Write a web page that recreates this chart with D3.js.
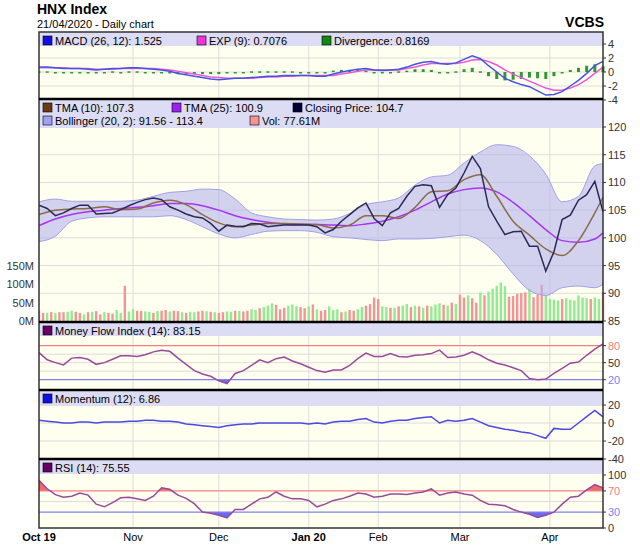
<!DOCTYPE html>
<html>
<head>
<meta charset="utf-8">
<script src="https://cdn.jsdelivr.net/npm/d3@7"></script>
<style>
  body { margin: 0; background: #fff; }
  text { font-family: "Liberation Sans", Arial, sans-serif; }
</style>
</head>
<body>
<div id="chart"></div>
<script>
// trading-day positions of month labels (Oct 1 2019 .. Apr 21 2020, 139 sessions)
const tickDays = [0, 23, 44, 66, 83, 103, 125];
const tickLabels = ['Oct 19', 'Nov', 'Dec', 'Jan 20', 'Feb', 'Mar', 'Apr'];
const boldTicks = ['Oct 19', 'Jan 20'];
const lastDay = 138;

// series read every 2 sessions
const sampleDays = d3.range(0, 139, 2);
const closePrice = [105.9,105.3,104.0,104.5,105.3,105.9,105.9,104.3,104.4,104.5,
  105.1,105.8,106.4,106.9,107.2,106.9,105.6,105.0,104.3,103.8,
  103.6,102.6,101.2,102.3,102.1,102.0,102.6,102.5,102.0,102.2,
  102.3,102.3,102.3,102.3,102.0,100.9,101.5,103.0,104.2,105.4,
  106.3,103.5,102.2,104.5,105.3,107.5,109.3,109.6,109.4,105.5,
  107.8,109.0,111.7,114.7,112.5,105.6,103.0,100.6,101.1,101.2,
  98.5,98.5,94.0,97.5,103.3,104.1,106.8,107.8,110.2,104.7];
const macd = [0.7,0.7,0.6,0.5,0.5,0.5,0.4,0.3,0.4,0.5,0.5,0.6,0.6,0.5,0.4,0.3,0.1,-0.2,-0.4,-0.6,
  -0.8,-1.0,-1.1,-1.0,-0.9,-0.9,-0.8,-0.7,-0.6,-0.6,-0.5,-0.5,-0.5,-0.5,-0.6,-0.6,-0.3,0.0,0.2,0.4,
  0.5,0.3,0.2,0.3,0.4,0.7,1.1,1.4,1.5,1.2,1.1,1.3,1.8,2.3,1.9,0.9,0.0,-0.9,-1.4,-1.8,
  -2.1,-2.7,-3.3,-3.2,-2.8,-2.0,-1.2,-0.2,0.9,1.525];
const macdExp = [0.6,0.6,0.6,0.6,0.5,0.5,0.5,0.4,0.4,0.4,0.5,0.5,0.5,0.5,0.5,0.4,0.3,0.1,-0.1,-0.3,
  -0.5,-0.7,-0.8,-0.9,-0.9,-0.9,-0.9,-0.8,-0.7,-0.7,-0.6,-0.6,-0.5,-0.5,-0.5,-0.5,-0.5,-0.3,-0.1,0.1,
  0.3,0.3,0.3,0.3,0.3,0.5,0.7,1.0,1.2,1.2,1.2,1.2,1.4,1.7,1.8,1.5,1.0,0.3,-0.3,-0.8,
  -1.3,-1.8,-2.3,-2.6,-2.6,-2.3,-1.8,-1.1,-0.2,0.7076];
const divergence = [0.1,0.1,0,-0.1,0,0,-0.1,-0.1,0,0.1,0,0.1,0.1,0,-0.1,-0.1,-0.2,-0.3,-0.3,-0.3,
  -0.3,-0.3,-0.3,-0.1,0,0,0.1,0.1,0.1,0.1,0.1,0.1,0,0,-0.1,-0.1,0.2,0.3,0.3,0.3,
  0.2,0,-0.1,0,0.1,0.2,0.4,0.4,0.3,0,-0.1,0.1,0.4,0.6,0.1,-0.6,-1.0,-1.2,-1.1,-1.0,
  -0.8,-0.9,-1.0,-0.6,-0.2,0.3,0.6,0.9,1.1,0.8];
const mfi = [67.6,55,50,46,58,59,56,47,50,56,62,62,61,64,69,72,70,58,47,36,
  30,26,18,13,31,36,45,55,50,57,60,53,48,42,36,33,37,37,45,57,
  67,61,61,66,61,60,63,64,66,72,59,60,63,69,63,55,49,46,41,36,
  22,20,21,31,40,49,51,63,74,83.15];
const momentum = [3,2,1,0,0,1,1,0,1,1,1,2,2,3,3,2,2,1,-1,-2,
  -3,-4,-5,-3,-2,-1,-1,0,0,0,0,0,0,-1,0,-1,1,2,2,4,
  5,1,0,2,3,3,5,6,7,0,3,2,3,5,1,-3,-5,-7,-8,-10,
  -11,-14,-17,-6,-7,-7,0,7,14,6.86];
const rsi = [90,74,63,58,60,66,62,45,40,48,57,58,55,52,60,76,73,62,56,46,
  30,28,24,19,35,35,45,55,58,68,60,55,55,52,40,45,52,55,60,66,
  64,58,60,64,64,63,66,68,74,62,66,68,64,62,52,45,44,42,35,30,
  26,20,24,30,45,58,60,72,82,75.55];

// smooth series read every 4 sessions
const smoothDays = d3.range(0, 137, 4).concat([138]);
const tma10 = [104.2,105.0,105.2,105.3,105.6,105.1,105.2,106.3,106.8,106.0,104.2,102.7,102.0,102.3,102.6,102.6,102.5,102.4,
  101.8,102.3,104.0,104.0,103.5,105.5,108.3,108.5,110.5,111.4,107.5,103.0,100.5,98.0,96.8,99.5,104.5,107.3];
const tma25 = [102.2,103.4,104.2,104.7,105.0,105.3,105.5,105.8,106.2,106.2,105.8,105.0,104.0,103.3,102.8,102.5,102.4,102.4,
  102.3,102.2,102.5,103.0,103.8,105.0,106.5,107.9,108.7,109.0,108.3,106.4,104.0,101.5,99.5,99.2,99.8,100.9];
const bollUpper = [106.5,107.0,106.6,106.6,106.6,106.6,106.8,107.5,108.2,108.4,108.8,108.7,107.0,104.5,103.8,103.4,103.3,103.2,
  103.4,104.4,106.0,106.5,107.2,109.5,111.0,111.3,113.5,115.5,116.8,116.5,114.8,111.5,106.5,107.5,113.0,113.4];
const bollLower = [99.3,100.3,103.0,103.6,103.8,103.8,103.8,103.8,104.0,103.3,102.0,100.7,100.0,100.6,101.2,101.3,101.3,101.0,
  100.2,100.0,99.7,99.5,99.8,99.8,99.9,100.2,100.5,99.5,97.0,93.5,90.5,89.6,91.0,91.3,91.0,91.6];

// daily volume (millions) and up/down colour
const volume = [28,22,22,24,22,24,24,25,28,25,22,18,24,25,27,18,24,22,20,30,22,96,26,
  32,28,27,26,25,22,27,28,30,26,28,27,24,22,25,24,26,28,27,25,24,
  22,24,26,25,28,27,26,28,32,30,35,38,42,48,44,32,36,42,45,40,38,35,
  40,45,32,28,30,40,30,32,24,26,30,28,32,38,42,46,64,
  60,40,38,36,36,40,42,46,38,42,40,36,42,40,45,48,44,42,50,46,
  72,64,70,62,50,78,70,80,88,96,105,95,66,68,74,76,78,88,65,72,98,70,
  60,58,56,60,62,58,56,70,64,62,60,64,60,78];
const volumeDir = 'rrgrgrrggrrgrgrrgrrggrg' + 'grrggrgrrgrrgrggrrgrg' + 'rrggrgrrggrgggrrrgggrr' +
  'grgrrgggrgrrggrrr' + 'rggrgrggrgrgrgggrgrg' + 'rrgrrgrgggggrrrrrgrrrg' + 'gggrggggggrggr';

const W = 640, H = 548;
const left = 39, right = 603;
const cream = '#fffff0', band = '#dcdcf4', grid = '#dcdcdc';

const svg = d3.select('#chart').append('svg').attr('width', W).attr('height', H);

const x = d3.scaleLinear().domain([0, lastDay]).range([left, right]);

// header
svg.append('text').attr('x', 37).attr('y', 14).style('font-size', '14px').style('font-weight', 'bold').text('HNX Index');
svg.append('text').attr('x', 37).attr('y', 28).style('font-size', '11px').text('21/04/2020 - Daily chart');
svg.append('text').attr('x', 604).attr('y', 27).attr('text-anchor', 'end').style('font-size', '14px').style('font-weight', 'bold').text('VCBS');

const panels = [
  {top: 32, bottom: 99, band: 46},
  {top: 99, bottom: 322, band: 128},
  {top: 322, bottom: 390, band: 336},
  {top: 390, bottom: 459, band: 406},
  {top: 459, bottom: 528, band: 474}
];

const yMacd = d3.scaleLinear().domain([-4, 4]).range([100, 44]);
const yPrice = d3.scaleLinear().domain([85, 120]).range([321, 127]);
const yVol = d3.scaleLinear().domain([0, 150]).range([321, 266]);
const yMfi = d3.scaleLinear().domain([0, 100]).range([391, 334.3]);
const yMom = d3.scaleLinear().domain([-40, 20]).range([459, 405]);
const yRsi = d3.scaleLinear().domain([0, 100]).range([528, 475]);

// panel backgrounds + vertical grid
panels.forEach((p, i) => {
  svg.append('rect').attr('x', left).attr('y', p.top).attr('width', right - left).attr('height', p.bottom - p.top).attr('fill', cream);
  svg.append('clipPath').attr('id', 'clip' + i).append('rect')
    .attr('x', left).attr('y', p.top).attr('width', right - left + 2).attr('height', p.bottom - p.top);
  svg.selectAll(null).data(tickDays.slice(1)).join('line')
    .attr('x1', d => x(d)).attr('x2', d => x(d)).attr('y1', p.top).attr('y2', p.bottom)
    .attr('stroke', grid);
});

const hGrid = (scale, vals) => {
  svg.selectAll(null).data(vals).join('line')
    .attr('x1', left).attr('x2', right).attr('y1', d => scale(d)).attr('y2', d => scale(d))
    .attr('stroke', grid);
};
hGrid(yMacd, [-2, 0, 2]);
hGrid(yPrice, [90, 95, 100, 105, 110, 115]);
hGrid(yMfi, [35, 50, 65]);
hGrid(yMom, [-20, 0]);
hGrid(yRsi, [50]);

const layer = (i) => svg.append('g').attr('clip-path', `url(#clip${i})`);

// MACD panel
const g0 = layer(0);
g0.selectAll('rect').data(divergence).join('rect')
  .attr('x', (d, i) => x(sampleDays[i]) - 1.5)
  .attr('y', d => Math.min(yMacd(d), yMacd(0)))
  .attr('width', 3)
  .attr('height', d => Math.max(1.5, Math.abs(yMacd(d) - yMacd(0))))
  .attr('fill', '#2e9a2e');
const lineOn = (scale) => d3.line().x((d, i) => x(sampleDays[i])).y(d => scale(d));
g0.append('path').datum(macdExp).attr('d', lineOn(yMacd)).attr('fill', 'none').attr('stroke', '#ee55dd').attr('stroke-width', 1.5);
g0.append('path').datum(macd).attr('d', lineOn(yMacd)).attr('fill', 'none').attr('stroke', '#4455dd').attr('stroke-width', 1.5);

// main panel
const g1 = layer(1);
g1.selectAll('rect').data(volume).join('rect')
  .attr('x', (d, i) => x(i) - 1.2)
  .attr('y', d => yVol(d))
  .attr('width', 2.4)
  .attr('height', d => yVol(0) - yVol(d))
  .attr('fill', (d, i) => volumeDir[i] === 'r' ? '#f49494' : '#90ec90');
const smoothLine = (arr) => d3.line().curve(d3.curveMonotoneX).x((d, i) => x(smoothDays[i])).y(d => yPrice(d))(arr);
const boll = d3.area().curve(d3.curveMonotoneX)
  .x((d, i) => x(smoothDays[i]))
  .y0((d, i) => yPrice(bollLower[i]))
  .y1(d => yPrice(d));
g1.append('path').datum(bollUpper).attr('d', boll).attr('fill', '#b4b4ec').attr('fill-opacity', 0.6);
g1.append('path').attr('d', smoothLine(bollUpper)).attr('fill', 'none').attr('stroke', '#a0a0e8');
g1.append('path').attr('d', smoothLine(bollLower)).attr('fill', 'none').attr('stroke', '#a0a0e8');
g1.append('path').attr('d', smoothLine(tma25)).attr('fill', 'none').attr('stroke', '#aa33ee').attr('stroke-width', 1.5);
g1.append('path').attr('d', smoothLine(tma10)).attr('fill', 'none').attr('stroke', '#8a6a4a').attr('stroke-width', 1.5);
g1.append('path').datum(closePrice).attr('d', lineOn(yPrice)).attr('fill', 'none').attr('stroke', '#2a2a55').attr('stroke-width', 1.5);

// oscillator with overbought / oversold shading
const oscillator = (g, data, scale, hi, lo, color) => {
  g.append('clipPath').attr('id', g.attr('id') + 'hi').append('rect')
    .attr('x', left).attr('y', 0).attr('width', right - left + 2).attr('height', scale(hi));
  g.append('clipPath').attr('id', g.attr('id') + 'lo').append('rect')
    .attr('x', left).attr('y', scale(lo)).attr('width', right - left + 2).attr('height', 100);
  const area = (base) => d3.area().x((d, i) => x(sampleDays[i])).y0(scale(base)).y1(d => scale(d));
  g.append('path').datum(data).attr('d', area(hi)).attr('fill', '#f06a6a').attr('clip-path', `url(#${g.attr('id')}hi)`);
  g.append('path').datum(data).attr('d', area(lo)).attr('fill', '#6a6af0').attr('clip-path', `url(#${g.attr('id')}lo)`);
  g.append('line').attr('x1', left).attr('x2', right).attr('y1', scale(hi)).attr('y2', scale(hi)).attr('stroke', '#f08080').attr('stroke-width', 1.2);
  g.append('line').attr('x1', left).attr('x2', right).attr('y1', scale(lo)).attr('y2', scale(lo)).attr('stroke', '#8080f0').attr('stroke-width', 1.2);
  g.append('path').datum(data).attr('d', lineOn(scale)).attr('fill', 'none').attr('stroke', color).attr('stroke-width', 1.5);
};
oscillator(layer(2).attr('id', 'mfi'), mfi, yMfi, 80, 20, '#9a4a9a');
const g3 = layer(3);
g3.append('path').datum(momentum).attr('d', lineOn(yMom)).attr('fill', 'none').attr('stroke', '#4a4ae0').attr('stroke-width', 1.5);
oscillator(layer(4).attr('id', 'rsi'), rsi, yRsi, 70, 30, '#9a4a9a');

// legend bands: [label, colour, x offset]
const legends = [
  [[['MACD (26, 12): 1.525', '#1010e0', 0], ['EXP (9): 0.7076', '#ee33dd', 154], ['Divergence: 0.8169', '#118811', 279]]],
  [[['TMA (10): 107.3', '#6a3a10', 0], ['TMA (25): 100.9', '#9922ee', 129], ['Closing Price: 104.7', '#000033', 250]],
   [['Bollinger (20, 2): 91.56 - 113.4', '#a0a0f0', 0], ['Vol: 77.61M', '#f49494', 207]]],
  [[['Money Flow Index (14): 83.15', '#660066', 0]]],
  [[['Momentum (12): 6.86', '#1010e0', 0]]],
  [[['RSI (14): 75.55', '#660066', 0]]]
];
panels.forEach((p, i) => {
  svg.append('rect').attr('x', left).attr('y', p.top).attr('width', right - left).attr('height', p.band - p.top).attr('fill', band);
  legends[i].forEach((row, r) => {
    row.forEach(item => {
      const lx = left + 4 + item[2];
      const ly = p.top + 4 + r * 13;
      svg.append('rect').attr('x', lx).attr('y', ly).attr('width', 9).attr('height', 9)
        .attr('fill', item[1]).attr('stroke', '#000').attr('stroke-width', 0.6);
      svg.append('text').attr('x', lx + 12).attr('y', ly + 8.5).style('font-size', '11px').text(item[0]);
    });
  });
});

// right axes
const rightAxis = (scale, vals, colors) => {
  vals.forEach((v, i) => {
    svg.append('line').attr('x1', right).attr('x2', right + 3).attr('y1', scale(v)).attr('y2', scale(v)).attr('stroke', '#333');
    svg.append('text').attr('x', right + 5).attr('y', scale(v) + 4).style('font-size', '11px')
      .attr('fill', colors ? colors[i] : '#333').text(v);
  });
};
rightAxis(yMacd, [4, 2, 0, -2, -4]);
rightAxis(yPrice, [120, 115, 110, 105, 100, 95, 90, 85]);
rightAxis(yMfi, [80, 50, 20], ['#f08080', '#333', '#8080f0']);
rightAxis(yMom, [20, 0, -20, -40]);
rightAxis(yRsi, [100, 70, 30, 0], ['#333', '#f08080', '#8080f0', '#333']);

// left volume axis
[0, 50, 100, 150].forEach(v => {
  svg.append('text').attr('x', 34).attr('y', yVol(v) + 4).attr('text-anchor', 'end').style('font-size', '11px')
    .attr('fill', '#333').text(v + 'M');
});

// borders
svg.append('rect').attr('x', left).attr('y', 32).attr('width', right - left).attr('height', 528 - 32)
  .attr('fill', 'none').attr('stroke', '#333').attr('stroke-width', 1.5);
[99, 322, 390, 459].forEach(yy => {
  svg.append('line').attr('x1', left).attr('x2', right).attr('y1', yy).attr('y2', yy).attr('stroke', '#000').attr('stroke-width', 2.5);
});

// x axis labels
svg.selectAll(null).data(tickDays).join('text')
  .attr('x', d => x(d)).attr('y', 541).attr('text-anchor', 'middle')
  .style('font-size', '11px')
  .style('font-weight', (d, i) => boldTicks.includes(tickLabels[i]) ? 'bold' : 'normal')
  .text((d, i) => tickLabels[i]);
</script>
</body>
</html>
